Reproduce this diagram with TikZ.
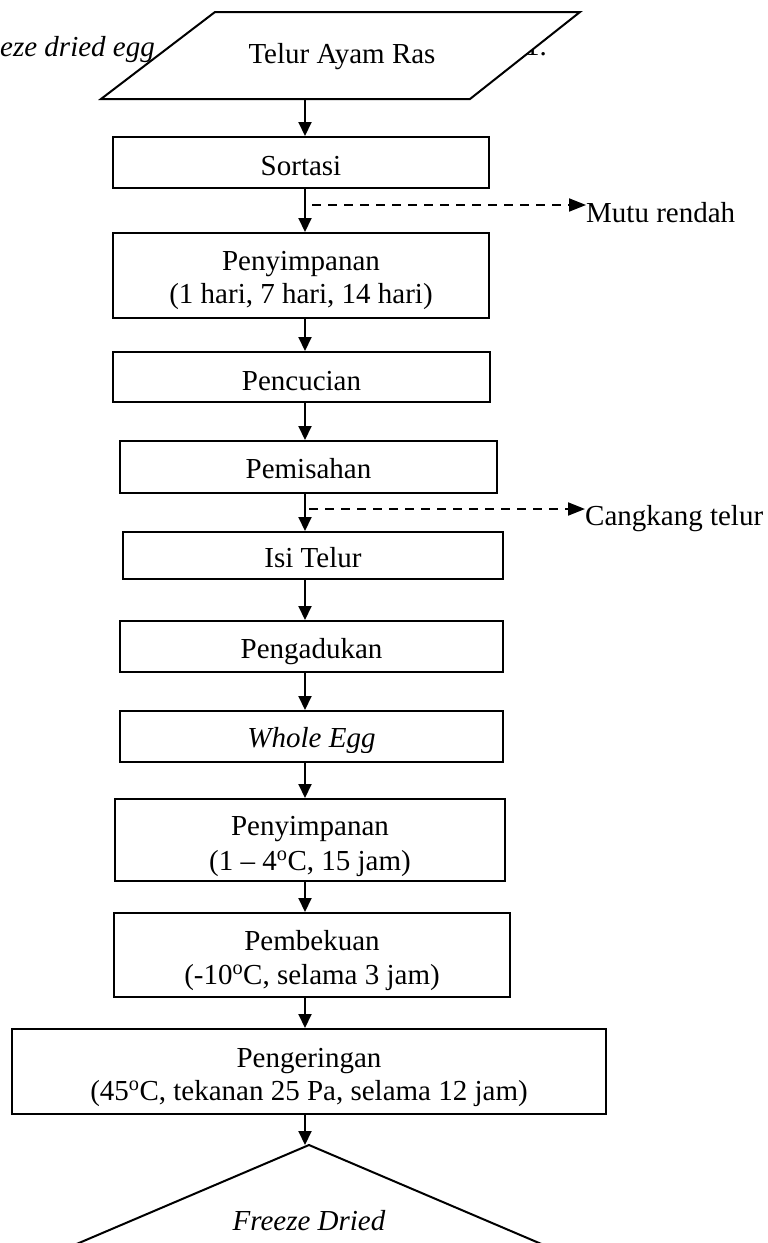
\documentclass[tikz,border=0pt]{standalone}
\usepackage{fontspec}
\setmainfont{Liberation Serif}
\usetikzlibrary{arrows.meta}
\tikzset{
  box/.style={draw, line width=2pt, inner sep=0pt},
  lbl/.style={inner sep=0pt, anchor=base, font=\fontsize{29}{34}\selectfont},
  flow/.style={line width=2pt, -{Triangle[length=14pt,width=13pt]}},
  side/.style={line width=2pt, dash pattern=on 9pt off 7pt, -{Triangle[length=17pt,width=13pt]}},
  outline/.style={line width=2pt},
}
\begin{document}
\begin{tikzpicture}[x=1pt,y=-1pt]
\useasboundingbox (0,0) rectangle (768,1243);
\clip (0,0) rectangle (768,1243);
\coordinate (ax) at (305,0);

% background heading text (partly hidden)
\node[lbl, anchor=base west, font=\fontsize{29}{34}\selectfont\itshape] (hl) at (0,56) {eze dried egg};
\node[lbl, anchor=base east] (hr) at (547,55) {1.};

% input parallelogram
\draw[outline, fill=white] (215,12) -- (580,12) -- (470,99) -- (101,99) -- cycle;
\node[lbl] (t0) at (342,63) {Telur Ayam Ras};
\coordinate (pb) at (305,99);

% boxes
\node[box, minimum width=376pt, minimum height=51pt] (b1) at (301,162.5) {};
\node[lbl] (t1) at (301,175) {Sortasi};

\node[box, minimum width=376pt, minimum height=85pt] (b2) at (301,275.5) {};
\node[lbl] (t2a) at (301,270) {Penyimpanan};
\node[lbl] (t2b) at (301,303) {(1 hari, 7 hari, 14 hari)};

\node[box, minimum width=377pt, minimum height=50pt] (b3) at (301.5,377) {};
\node[lbl] (t3) at (301.5,390) {Pencucian};

\node[box, minimum width=377pt, minimum height=52pt] (b4) at (308.5,467) {};
\node[lbl] (t4) at (308.5,478) {Pemisahan};

\node[box, minimum width=380pt, minimum height=47pt] (b5) at (313,555.5) {};
\node[lbl] (t5) at (313,567) {Isi Telur};

\node[box, minimum width=383pt, minimum height=51pt] (b6) at (311.5,646.5) {};
\node[lbl] (t6) at (311.5,658) {Pengadukan};

\node[box, minimum width=383pt, minimum height=51pt] (b7) at (311.5,736.5) {};
\begin{scope}
  \clip (120,711) rectangle (503,752);
  \node[lbl, font=\fontsize{29}{34}\selectfont\itshape] (t7) at (311.5,747) {Whole Egg};
\end{scope}

\node[box, minimum width=390pt, minimum height=82pt] (b8) at (310,840) {};
\node[lbl] (t8a) at (310,835) {Penyimpanan};
\node[lbl] (t8b) at (310,870) {(1 -- 4\textsuperscript{o}C, 15 jam)};

\node[box, minimum width=396pt, minimum height=84pt] (b9) at (312,955) {};
\node[lbl] (t9a) at (312,950) {Pembekuan};
\node[lbl] (t9b) at (312,984) {(-10\textsuperscript{o}C, selama 3 jam)};

\node[box, minimum width=594pt, minimum height=85pt] (b10) at (309,1071.5) {};
\node[lbl] (t10a) at (309,1067) {Pengeringan};
\node[lbl] (t10b) at (309,1100) {(45\textsuperscript{o}C, tekanan 25 Pa, selama 12 jam)};

% output shape
\draw[outline] (39,1260) -- (309,1145) -- (579,1260);
\coordinate (apex) at (309,1145);
\node[lbl, font=\fontsize{29}{34}\selectfont\itshape] (t11) at (309,1230) {Freeze Dried};

% side outputs
\node[lbl, anchor=base west] (mutu) at (586,222) {Mutu rendah};
\node[lbl, anchor=base west] (cang) at (585,525) {Cangkang telur};

% main flow
\draw[flow] (pb) -- (b1.north -| ax);
\draw[flow] (b1.south -| ax) -- (b2.north -| ax);
\draw[flow] (b2.south -| ax) -- (b3.north -| ax);
\draw[flow] (b3.south -| ax) -- (b4.north -| ax);
\draw[flow] (b4.south -| ax) -- (b5.north -| ax);
\draw[flow] (b5.south -| ax) -- (b6.north -| ax);
\draw[flow] (b6.south -| ax) -- (b7.north -| ax);
\draw[flow] (b7.south -| ax) -- (b8.north -| ax);
\draw[flow] (b8.south -| ax) -- (b9.north -| ax);
\draw[flow] (b9.south -| ax) -- (b10.north -| ax);
\draw[flow] (b10.south -| ax) -- (ax |- apex);

% dashed branches
\coordinate (j1) at (312,205);
\coordinate (j2) at (309,509);
\draw[side] (j1) -- (mutu.west |- j1);
\draw[side] (j2) -- (cang.west |- j2);
\end{tikzpicture}
\end{document}
